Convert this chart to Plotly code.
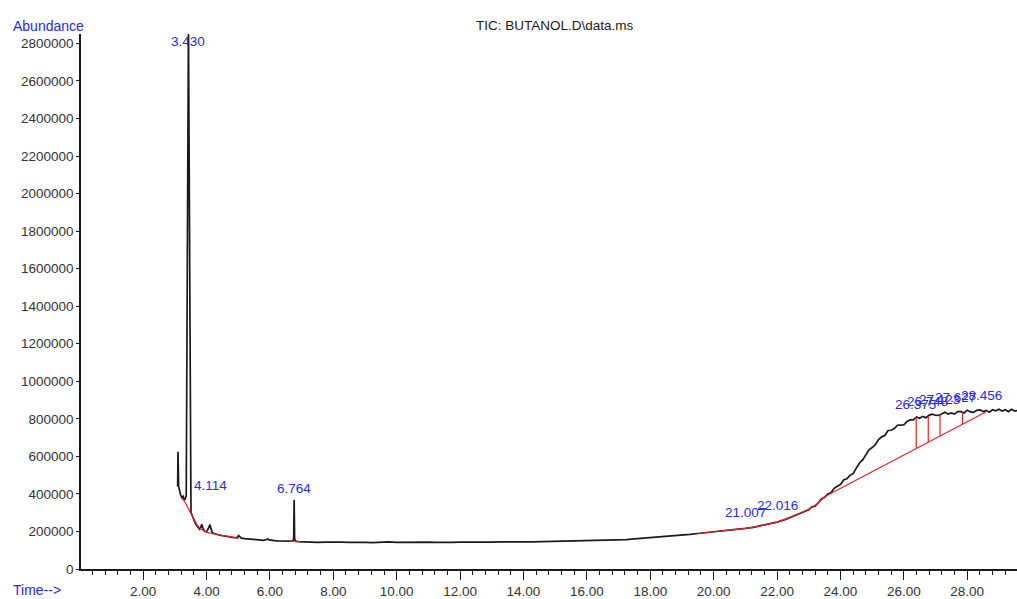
import plotly.graph_objects as go

INK = "#1a1a1a"
BLUE = "#2a2ae0"
RED = "#e0242a"
FONT = "Liberation Sans, Arial, sans-serif"

# chromatogram trace (retention time in min, abundance in thousands)
TIME_EARLY = [3.09, 3.10, 3.12, 3.15, 3.18, 3.22, 3.26, 3.30, 3.33, 3.36, 3.43, 3.51,
              3.54, 3.58, 3.62, 3.66, 3.70, 3.74, 3.78, 3.82, 3.85, 3.88, 3.92, 3.96,
              4.00, 4.04, 4.08, 4.11, 4.14, 4.18, 4.22, 4.28, 4.35, 4.42, 4.50, 4.58,
              4.66, 4.74, 4.82, 4.90, 4.96, 5.01, 5.05, 5.10, 5.20, 5.30, 5.40, 5.50,
              5.60, 5.70, 5.80, 5.88, 5.93, 5.98, 6.05, 6.15, 6.25, 6.35, 6.45, 6.55,
              6.65, 6.72, 6.75, 6.764, 6.78, 6.82, 6.90, 7.00]
ABUND_EARLY = [440, 625, 440, 405, 395, 380, 388, 370, 372, 395, 2900, 300,
               285, 270, 255, 240, 232, 220, 212, 222, 238, 222, 205, 200,
               198, 210, 228, 236, 215, 196, 190, 186, 183, 180, 177, 174,
               172, 170, 168, 167, 166, 178, 170, 164, 162, 160, 158, 157,
               155, 154, 153, 156, 160, 155, 152, 151, 150, 149, 149, 148,
               148, 149, 160, 368, 160, 147, 146, 145]

TIME_MID = [7.25, 7.5, 7.75, 8.0, 8.25, 8.5, 8.75, 9.0, 9.25, 9.5, 9.75, 10.0,
            10.25, 10.5, 10.75, 11.0, 11.25, 11.5, 11.75, 12.0, 12.25, 12.5, 12.75,
            13.0, 13.25, 13.5, 13.75, 14.0, 14.25, 14.5, 14.75, 15.0, 15.25, 15.5,
            15.75, 16.0, 16.25, 16.5, 16.75, 17.0, 17.25, 17.5, 17.75, 18.0, 18.25,
            18.5, 18.75, 19.0, 19.25, 19.5, 19.75, 20.0, 20.25, 20.5, 20.75, 21.0,
            21.25, 21.5, 21.75, 22.0, 22.25, 22.5, 22.75]
ABUND_MID = [144, 142, 143, 141, 143, 142, 144, 142, 141, 143, 144, 142,
             143, 141, 142, 143, 142, 144, 142, 143, 142, 143, 144,
             143, 144, 143, 145, 144, 145, 146, 145, 147, 146, 148,
             149, 150, 151, 153, 154, 156, 157, 160, 163, 166, 169,
             172, 176, 180, 184, 189, 193, 198, 202, 206, 211, 216,
             222, 230, 239, 250, 263, 280, 298]

TIME_LATE = [23.0, 23.1, 23.2, 23.3, 23.4, 23.5, 23.6, 23.7, 23.8, 23.9, 24.0, 24.1,
             24.2, 24.3, 24.4, 24.5, 24.6, 24.7, 24.8, 24.9, 25.0, 25.1, 25.2, 25.3,
             25.4, 25.5, 25.6, 25.7, 25.8, 25.9, 26.0, 26.1, 26.2, 26.3, 26.4, 26.5,
             26.6, 26.7, 26.8, 26.9, 27.0, 27.1, 27.2, 27.3, 27.4, 27.5, 27.6, 27.7,
             27.8, 27.9, 28.0, 28.1, 28.2, 28.3, 28.4, 28.5, 28.6, 28.7, 28.8, 28.9,
             29.0, 29.1, 29.2, 29.3, 29.4, 29.5, 29.6]
ABUND_LATE = [316, 331, 334, 353, 373, 382, 400, 406, 430, 441, 450, 474,
              480, 499, 508, 537, 565, 581, 606, 635, 647, 662, 690, 704,
              711, 738, 739, 748, 766, 769, 768, 786, 795, 794, 810, 803,
              813, 806, 820, 825, 819, 818, 827, 835, 825, 831, 825, 838,
              838, 831, 846, 837, 834, 845, 848, 839, 845, 835, 849, 843,
              851, 841, 848, 838, 851, 841, 844]

# integration baselines (red)
BASE1_T = [3.22, 3.30, 3.40, 3.50, 3.60, 3.70, 3.80, 3.90, 4.00, 4.15, 4.30, 4.50, 4.70, 4.90, 5.02]
BASE1_V = [376, 362, 330, 300, 265, 236, 214, 203, 196, 190, 185, 177, 171, 167, 165]
BASE2_T = [6.62, 6.95]
BASE2_V = [148, 146]
BASE3_T = [19.5, 20.0, 20.5, 21.0, 21.5, 22.0, 22.5, 23.0, 23.25, 23.5, 28.6]
BASE3_V = [189, 198, 206, 216, 230, 250, 280, 318, 345, 385, 838]

# drop lines between the late peaks
DROP_T = [26.39, 26.77, 27.14, 27.85]
DROP_LO = [642, 676, 709, 772]
DROP_HI = [808, 814, 822, 835]

# peak labels
PEAK_LABELS = ["3.430", "4.114", "6.764", "21.007", "22.016",
               "26.375", "26.748", "27.123", "27.627", "28.456"]
PEAK_RT = [3.43, 4.114, 6.764, 21.007, 22.016, 26.375, 26.748, 27.123, 27.627, 28.456]
LABEL_Y = [2760, 392, 376, 250, 286, 827, 843, 853, 864, 875]

K = 1000

fig = go.Figure()
fig.add_trace(go.Scatter(
    x=TIME_EARLY + TIME_MID + TIME_LATE,
    y=[v * K for v in ABUND_EARLY + ABUND_MID + ABUND_LATE],
    mode="lines", line=dict(color=INK, width=1.7), hoverinfo="skip",
))
for bt, bv in [(BASE1_T, BASE1_V), (BASE2_T, BASE2_V), (BASE3_T, BASE3_V)]:
    fig.add_trace(go.Scatter(x=bt, y=[v * K for v in bv], mode="lines",
                             line=dict(color=RED, width=1.2), hoverinfo="skip"))
for t, lo, hi in zip(DROP_T, DROP_LO, DROP_HI):
    fig.add_trace(go.Scatter(x=[t, t], y=[lo * K, hi * K], mode="lines",
                             line=dict(color=RED, width=1.2), hoverinfo="skip"))

for lab, rt, ly in zip(PEAK_LABELS, PEAK_RT, LABEL_Y):
    fig.add_annotation(x=rt, y=ly * K, text=lab, showarrow=False,
                       xanchor="center", yanchor="bottom",
                       font=dict(color=BLUE, size=13.5, family=FONT))

fig.add_annotation(xref="paper", yref="paper", x=-0.0748, y=1.0158, text="Abundance",
                   showarrow=False, xanchor="left", yanchor="middle",
                   font=dict(color=BLUE, size=14, family=FONT))
fig.add_annotation(xref="paper", yref="paper", x=-0.0748, y=-0.0385, text="Time-->",
                   showarrow=False, xanchor="left", yanchor="middle",
                   font=dict(color=BLUE, size=14, family=FONT))
fig.add_annotation(xref="paper", yref="paper", x=0.5059, y=1.0158,
                   text="TIC: BUTANOL.D\\data.ms",
                   showarrow=False, xanchor="center", yanchor="middle",
                   font=dict(color=INK, size=13.5, family=FONT))

fig.update_layout(
    width=1017, height=599,
    margin=dict(l=81, r=0, t=33.5, b=28),
    plot_bgcolor="white", paper_bgcolor="white",
    showlegend=False,
    font=dict(family=FONT, color="#333333", size=13.5),
    xaxis=dict(range=[0.04, 29.57], tick0=0, dtick=2, tickformat=".2f",
               showgrid=False, zeroline=False, showline=True, linecolor=INK,
               linewidth=1.5, ticks="outside", ticklen=9, tickcolor=INK,
               tickwidth=1.3,
               minor=dict(tick0=0, dtick=0.4, ticks="outside", ticklen=4,
                          tickcolor=INK, tickwidth=1, showgrid=False)),
    yaxis=dict(range=[0, 2850000], tick0=0, dtick=200000, tickformat="d",
               showgrid=False, zeroline=False, showline=True, linecolor=INK,
               linewidth=1.5, ticks="outside", ticklen=3, tickcolor=INK),
)

# drop the default page margin so the figure fills the window
fig.write_html("out.html", config={"displayModeBar": False},
               post_script="document.body.style.margin='0';"
                           "document.body.style.overflow='hidden';")
